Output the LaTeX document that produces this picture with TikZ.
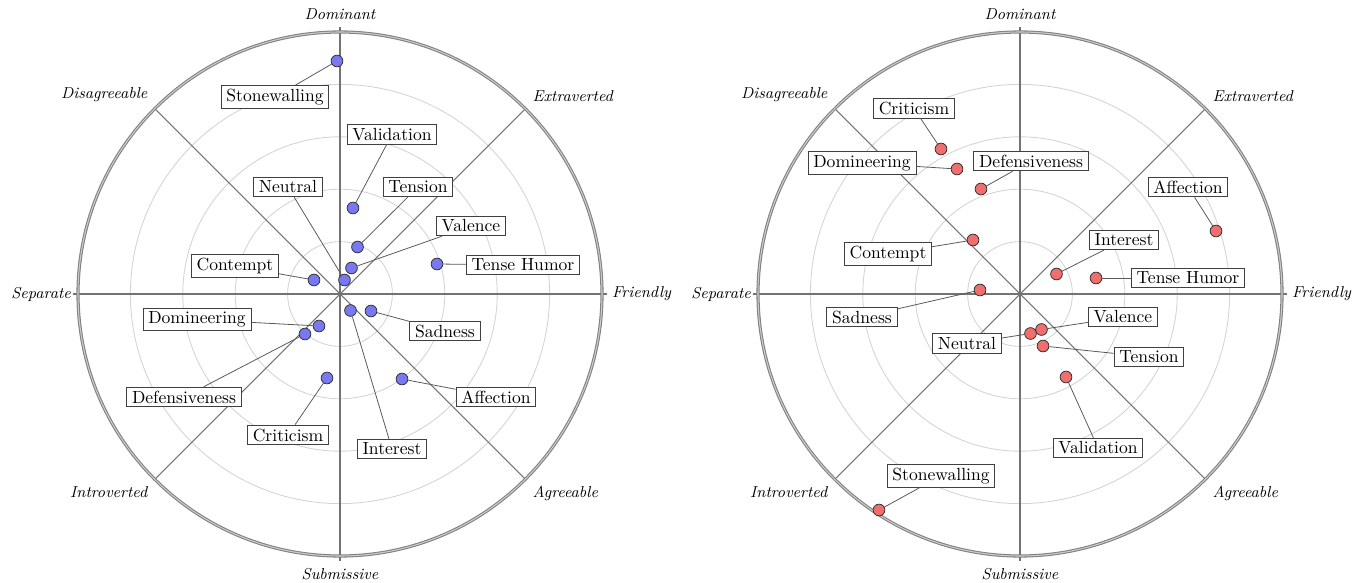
\documentclass[tikz,border=0pt]{standalone}
\usepackage{xcolor}
\usepackage{tikz}
\usetikzlibrary{positioning, calc}
\definecolor{dotblue}{RGB}{120,120,240}
\definecolor{dotred}{RGB}{240,110,110}
\tikzset{
    tag/.style={
        draw = black!75, fill = white,
        line width = 0.5pt,
        inner xsep = 3pt, inner ysep = 2pt,
        font = \normalsize
    },
    dot/.style = {circle, draw = black!80, line width = 0.45pt,
        minimum size = 0.235cm, inner sep = 0pt},
    bluedot/.style = {dot, fill = dotblue},
    reddot/.style = {dot, fill = dotred},
    leader/.style = {draw = black!65, line width = 0.45pt},
    ring/.style = {draw = black!17, line width = 0.5pt},
    rim/.style = {draw = black!50, double = black!20,
        double distance = 0.6pt, line width = 0.6pt},
    axisline/.style = {draw = black!55, line width = 0.6pt},
    pole/.style = {font = \small\itshape, inner sep = 4pt}
}
% grid of one circumplex, around (0,0) of the current scope
\newcommand{\circumplexgrid}[1]{%
    \foreach \r in {52.4,104.8,157.2,209.6}
        \draw[ring] (0,0) circle[radius=\r];
    \foreach \a in {45,135,225,315}
        \draw[axisline] (0,0) -- (\a:262);
    \draw[axisline] (-267,0) -- (267,0);
    \draw[axisline] (0,-267) -- (0,267);
    \draw[rim] (0,0) circle[radius=262];
    \node[pole, anchor=south] (#1-dom) at (0,267) {Dominant};
    \node[pole, anchor=north] (#1-sub) at (0,-267) {Submissive};
    \node[pole, anchor=east, inner sep=1pt] (#1-sep) at (-267,0) {Separate};
    \node[pole, anchor=west, inner sep=1pt] (#1-fri) at (270,0) {Friendly};
    \node[pole, anchor=south west] (#1-ext) at (45:262) {Extraverted};
    \node[pole, anchor=south east] (#1-dis) at (135:262) {Disagreeable};
    \node[pole, anchor=north east] (#1-int) at (225:262) {Introverted};
    \node[pole, anchor=north west] (#1-agr) at (315:262) {Agreeable};
}

\begin{document}
\begin{tikzpicture}[x=0.02cm, y=0.02cm]

    \useasboundingbox (0,0) rectangle (1368,582);

    % Left circumplex
    \begin{scope}[shift={(340,288)}]
        \circumplexgrid{l}

        % Points
        \node[bluedot] (l-stone) at (-3,233) {};
        \node[bluedot] (l-valid) at (13,86) {};
        \node[bluedot] (l-neut) at (4.5,14) {};
        \node[bluedot] (l-tens) at (17.5,47) {};
        \node[bluedot] (l-vale) at (11.5,26) {};
        \node[bluedot] (l-humor) at (97,30) {};
        \node[bluedot] (l-cont) at (-26,14) {};
        \node[bluedot] (l-dom) at (-21,-32) {};
        \node[bluedot] (l-def) at (-35,-40) {};
        \node[bluedot] (l-sad) at (31,-17) {};
        \node[bluedot] (l-crit) at (-13,-84) {};
        \node[bluedot] (l-aff) at (62,-85) {};
        \node[bluedot] (l-inter) at (10.5,-16.5) {};

        % Labels
        \node[tag] (l-stone-t) at (-65,197) {Stonewalling};
        \node[tag] (l-valid-t) at (52,159.5) {Validation};
        \node[tag] (l-neut-t) at (-52,107) {Neutral};
        \node[tag] (l-tens-t) at (78,107) {Tension};
        \node[tag] (l-vale-t) at (131,68) {Valence};
        \node[tag] (l-humor-t) at (183,29) {Tense Humor};
        \node[tag] (l-cont-t) at (-105,28) {Contempt};
        \node[tag] (l-dom-t) at (-143,-25.5) {Domineering};
        \node[tag] (l-def-t) at (-156,-103) {Defensiveness};
        \node[tag] (l-sad-t) at (105,-37) {Sadness};
        \node[tag] (l-crit-t) at (-52,-141) {Criticism};
        \node[tag] (l-aff-t) at (156,-103) {Affection};
        \node[tag] (l-inter-t) at (52,-155) {Interest};

        % Leaders
        \draw[leader] (l-stone) -- (l-stone-t);
        \draw[leader] (l-valid) -- (l-valid-t);
        \draw[leader] (l-neut) -- (l-neut-t);
        \draw[leader] (l-tens) -- (l-tens-t);
        \draw[leader] (l-vale) -- (l-vale-t);
        \draw[leader] (l-humor) -- (l-humor-t);
        \draw[leader] (l-cont) -- (l-cont-t);
        \draw[leader] (l-dom) -- (l-dom-t);
        \draw[leader] (l-def) -- (l-def-t);
        \draw[leader] (l-sad) -- (l-sad-t);
        \draw[leader] (l-crit) -- (l-crit-t);
        \draw[leader] (l-aff) -- (l-aff-t);
        \draw[leader] (l-inter) -- (l-inter-t);
    \end{scope}

    % Right circumplex
    \begin{scope}[shift={(1020,288)}]
        \circumplexgrid{r}

        % Points
        \node[reddot] (r-crit) at (-79,145) {};
        \node[reddot] (r-dom) at (-63,125) {};
        \node[reddot] (r-def) at (-39,105) {};
        \node[reddot] (r-cont) at (-47,54) {};
        \node[reddot] (r-aff) at (196,63) {};
        \node[reddot] (r-inter) at (36.5,20) {};
        \node[reddot] (r-humor) at (76,16) {};
        \node[reddot] (r-sad) at (-40,4) {};
        \node[reddot] (r-vale) at (21.5,-35.5) {};
        \node[reddot] (r-neut) at (10.5,-39.5) {};
        \node[reddot] (r-tens) at (23,-52) {};
        \node[reddot] (r-valid) at (46,-83) {};
        \node[reddot] (r-stone) at (-141,-216) {};

        % Labels
        \node[tag] (r-crit-t) at (-106,185.5) {Criticism};
        \node[tag] (r-dom-t) at (-158,131) {Domineering};
        \node[tag] (r-def-t) at (11,133) {Defensiveness};
        \node[tag] (r-cont-t) at (-132,40) {Contempt};
        \node[tag] (r-aff-t) at (168,107) {Affection};
        \node[tag] (r-inter-t) at (104,54) {Interest};
        \node[tag] (r-humor-t) at (168,16) {Tense Humor};
        \node[tag] (r-sad-t) at (-158,-23) {Sadness};
        \node[tag] (r-vale-t) at (103,-23) {Valence};
        \node[tag] (r-neut-t) at (-53,-49.5) {Neutral};
        \node[tag] (r-tens-t) at (129,-63) {Tension};
        \node[tag] (r-valid-t) at (78,-154) {Validation};
        \node[tag] (r-stone-t) at (-79,-182) {Stonewalling};

        % Leaders
        \draw[leader] (r-crit) -- (r-crit-t);
        \draw[leader] (r-dom) -- (r-dom-t);
        \draw[leader] (r-def) -- (r-def-t);
        \draw[leader] (r-cont) -- (r-cont-t);
        \draw[leader] (r-aff) -- (r-aff-t);
        \draw[leader] (r-inter) -- (r-inter-t);
        \draw[leader] (r-humor) -- (r-humor-t);
        \draw[leader] (r-sad) -- (r-sad-t);
        \draw[leader] (r-vale) -- (r-vale-t);
        \draw[leader] (r-neut) -- (r-neut-t);
        \draw[leader] (r-tens) -- (r-tens-t);
        \draw[leader] (r-valid) -- (r-valid-t);
        \draw[leader] (r-stone) -- (r-stone-t);
    \end{scope}

\end{tikzpicture}
\end{document}
